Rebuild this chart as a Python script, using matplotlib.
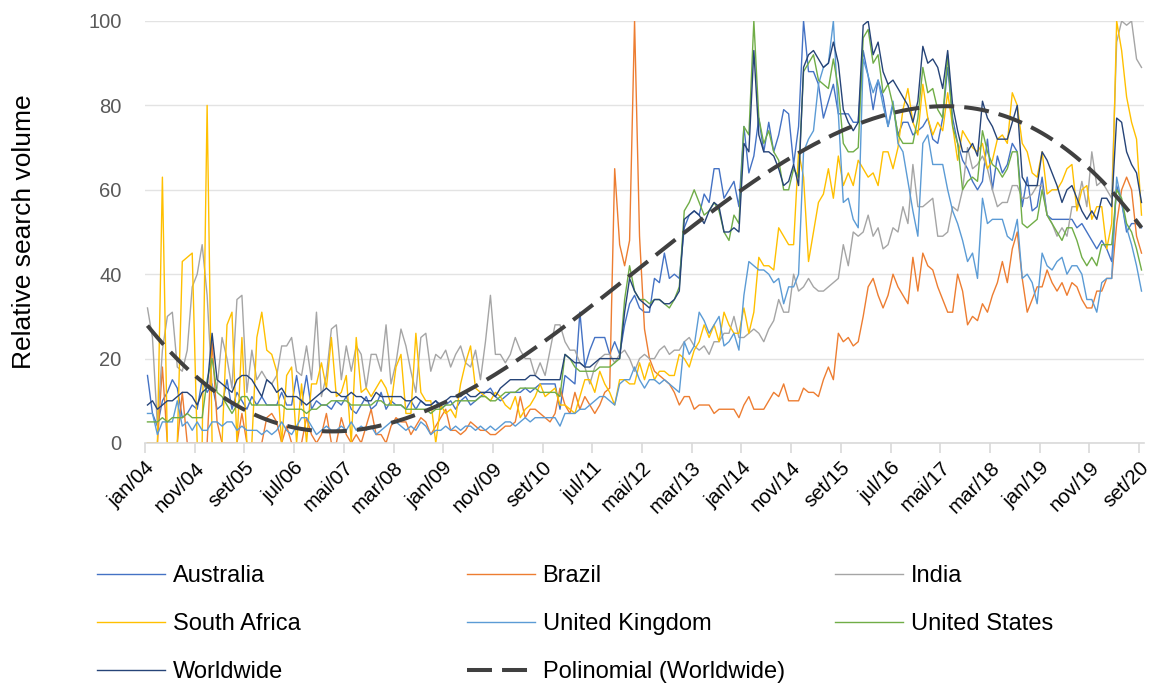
import numpy as np
import matplotlib
matplotlib.use("Agg")
import matplotlib.pyplot as plt

plt.rcParams['font.family'] = ['Liberation Sans', 'DejaVu Sans']

# monthly relative search volume, jan/2004 .. set/2020
tick_labels = ['jan/04', 'nov/04', 'set/05', 'jul/06', 'mai/07', 'mar/08', 'jan/09',
               'nov/09', 'set/10', 'jul/11', 'mai/12', 'mar/13', 'jan/14', 'nov/14',
               'set/15', 'jul/16', 'mai/17', 'mar/18', 'jan/19', 'nov/19', 'set/20']

australia = [
    16, 7, 4, 10, 12, 15, 13, 6, 7, 9,
    8, 15, 12, 14, 8, 9, 15, 8, 12, 10,
    8, 11, 9, 11, 9, 9, 9, 12, 9, 9,
    16, 9, 16, 8, 10, 9, 9, 8, 10, 9,
    11, 8, 7, 9, 11, 8, 9, 12, 8, 10,
    9, 9, 8, 10, 8, 10, 9, 9, 10, 8,
    9, 10, 8, 10, 11, 9, 10, 11, 12, 13,
    11, 10, 11, 12, 12, 12, 13, 12, 13, 14,
    14, 14, 14, 8, 16, 15, 14, 31, 18, 22,
    25, 25, 25, 21, 24, 21, 28, 33, 35, 32,
    31, 31, 39, 38, 45, 39, 40, 39, 51, 54,
    55, 54, 59, 57, 65, 65, 58, 60, 62, 56,
    75, 64, 68, 77, 69, 76, 69, 73, 79, 78,
    66, 75, 100, 88, 88, 85, 77, 81, 85, 78,
    78, 78, 76, 76, 93, 87, 79, 86, 82, 75,
    80, 73, 76, 76, 73, 74, 75, 77, 72, 71,
    77, 89, 77, 71, 67, 65, 62, 60, 62, 72,
    60, 68, 64, 66, 71, 69, 56, 63, 55, 56,
    63, 54, 53, 53, 53, 53, 53, 51, 52, 50,
    48, 46, 48, 46, 43, 61, 57, 50, 52, 52,
    51]

brazil = [
    0, 0, 0, 18, 0, 0, 0, 12, 0, 0,
    0, 0, 0, 24, 5, 0, 0, 0, 0, 7,
    0, 0, 0, 0, 6, 7, 5, 0, 4, 0,
    0, 0, 6, 2, 0, 2, 7, 0, 0, 6,
    2, 0, 2, 0, 4, 8, 2, 2, 0, 4,
    6, 5, 5, 2, 4, 6, 5, 2, 4, 6,
    8, 3, 3, 2, 3, 5, 4, 3, 3, 2,
    2, 3, 4, 4, 5, 11, 6, 8, 8, 7,
    6, 5, 7, 13, 9, 7, 12, 8, 11, 9,
    7, 9, 12, 13, 65, 47, 42, 48, 100, 49,
    27, 20, 17, 16, 15, 14, 12, 9, 11, 11,
    8, 9, 9, 9, 7, 8, 8, 8, 8, 6,
    9, 11, 8, 8, 8, 10, 12, 11, 14, 10,
    10, 10, 13, 12, 12, 11, 15, 18, 15, 26,
    24, 25, 23, 24, 30, 37, 39, 35, 32, 35,
    40, 37, 35, 33, 44, 36, 45, 42, 41, 37,
    34, 31, 31, 40, 36, 28, 30, 29, 33, 31,
    35, 38, 43, 38, 46, 50, 39, 31, 34, 37,
    37, 41, 38, 36, 38, 35, 38, 37, 34, 32,
    32, 36, 36, 39, 39, 52, 60, 63, 60, 49,
    45]

india = [
    32, 25, 4, 22, 30, 31, 18, 17, 22, 37,
    40, 47, 35, 13, 13, 25, 20, 13, 34, 35,
    12, 22, 15, 17, 15, 14, 16, 23, 23, 25,
    17, 16, 23, 15, 31, 11, 16, 27, 28, 15,
    23, 17, 23, 21, 13, 21, 21, 17, 28, 14,
    19, 27, 23, 17, 12, 25, 26, 17, 21, 20,
    22, 18, 21, 23, 19, 18, 22, 15, 24, 35,
    21, 21, 19, 21, 25, 22, 20, 20, 16, 19,
    16, 22, 28, 28, 24, 22, 22, 19, 18, 14,
    18, 20, 21, 21, 19, 21, 22, 20, 17, 20,
    21, 20, 20, 22, 23, 21, 22, 22, 24, 25,
    23, 22, 23, 21, 24, 24, 26, 26, 30, 25,
    25, 26, 27, 26, 24, 27, 29, 34, 31, 31,
    40, 36, 37, 39, 37, 36, 36, 37, 38, 39,
    47, 42, 50, 49, 50, 54, 49, 51, 46, 47,
    51, 50, 56, 52, 66, 56, 56, 57, 58, 49,
    49, 50, 56, 55, 60, 70, 65, 66, 68, 65,
    60, 56, 57, 57, 61, 61, 58, 58, 59, 61,
    61, 54, 52, 49, 51, 49, 56, 56, 62, 56,
    69, 61, 62, 60, 58, 95, 100, 99, 100, 91,
    89]

south_africa = [
    0, 0, 0, 63, 0, 0, 0, 43, 44, 45,
    0, 0, 80, 0, 0, 0, 28, 31, 0, 25,
    0, 0, 25, 31, 22, 21, 17, 0, 16, 18,
    0, 14, 0, 14, 14, 19, 13, 25, 11, 12,
    16, 0, 25, 12, 13, 11, 13, 15, 13, 9,
    18, 21, 7, 7, 26, 12, 10, 10, 0, 9,
    7, 8, 6, 14, 19, 23, 13, 12, 11, 10,
    12, 11, 9, 8, 11, 6, 8, 9, 11, 14,
    11, 12, 13, 9, 9, 8, 7, 11, 15, 15,
    12, 17, 14, 12, 9, 15, 15, 14, 14, 19,
    15, 19, 15, 17, 17, 16, 16, 21, 20, 18,
    22, 24, 28, 25, 28, 24, 31, 28, 26, 26,
    32, 26, 31, 44, 42, 42, 41, 51, 49, 47,
    47, 69, 63, 43, 50, 57, 59, 65, 58, 68,
    61, 64, 61, 67, 65, 63, 64, 61, 69, 69,
    65, 70, 79, 84, 76, 73, 85, 77, 73, 76,
    74, 83, 75, 67, 74, 72, 70, 69, 71, 65,
    67, 72, 73, 71, 83, 80, 71, 69, 64, 63,
    69, 59, 60, 60, 62, 65, 66, 55, 60, 61,
    53, 56, 56, 46, 52, 100, 93, 82, 76, 72,
    54]

united_kingdom = [
    7, 7, 2, 5, 5, 5, 10, 4, 5, 3,
    5, 3, 3, 5, 5, 4, 5, 5, 3, 4,
    3, 3, 3, 2, 3, 2, 3, 5, 3, 2,
    4, 6, 6, 4, 2, 3, 4, 3, 3, 4,
    3, 5, 3, 4, 3, 4, 2, 3, 4, 5,
    5, 4, 3, 4, 3, 5, 4, 2, 3, 3,
    4, 3, 4, 3, 4, 4, 3, 4, 3, 4,
    3, 4, 5, 5, 4, 5, 6, 5, 6, 6,
    6, 6, 6, 4, 7, 7, 7, 8, 8, 9,
    10, 11, 11, 10, 9, 14, 15, 15, 18, 15,
    13, 15, 15, 14, 15, 14, 13, 12, 24, 21,
    23, 31, 29, 26, 28, 30, 23, 24, 26, 22,
    35, 43, 42, 41, 41, 40, 38, 39, 33, 37,
    37, 40, 69, 72, 74, 85, 89, 90, 100, 78,
    57, 58, 53, 51, 91, 87, 83, 86, 80, 75,
    81, 71, 69, 62, 55, 49, 71, 73, 66, 66,
    66, 60, 55, 52, 48, 43, 45, 39, 58, 52,
    53, 53, 53, 49, 48, 53, 39, 40, 38, 33,
    45, 42, 41, 43, 44, 40, 42, 42, 40, 34,
    34, 31, 38, 39, 39, 63, 57, 51, 47, 42,
    36]

united_states = [
    5, 5, 5, 6, 5, 6, 6, 6, 7, 6,
    6, 6, 15, 20, 12, 11, 9, 7, 9, 11,
    11, 9, 9, 9, 9, 9, 9, 9, 8, 8,
    8, 8, 7, 8, 8, 9, 9, 10, 10, 10,
    10, 9, 9, 9, 9, 9, 10, 10, 9, 9,
    9, 9, 8, 8, 8, 8, 8, 7, 8, 8,
    9, 9, 10, 10, 10, 10, 10, 11, 11, 10,
    10, 11, 12, 12, 12, 13, 13, 13, 13, 12,
    12, 12, 12, 11, 21, 20, 18, 17, 17, 17,
    17, 18, 18, 18, 19, 20, 34, 42, 36, 34,
    34, 33, 34, 34, 33, 32, 34, 37, 55, 57,
    60, 57, 54, 55, 57, 55, 50, 48, 54, 52,
    75, 73, 100, 77, 71, 74, 69, 67, 60, 60,
    65, 63, 88, 90, 92, 86, 85, 84, 91, 84,
    71, 69, 69, 70, 96, 98, 90, 92, 83, 85,
    80, 73, 71, 71, 71, 77, 89, 83, 84, 79,
    77, 92, 75, 71, 60, 62, 63, 62, 74, 69,
    66, 65, 63, 65, 69, 69, 52, 51, 52, 53,
    60, 54, 52, 50, 48, 51, 51, 48, 44, 42,
    44, 42, 47, 47, 47, 60, 58, 52, 50, 46,
    41]

worldwide = [
    9, 10, 8, 9, 10, 10, 11, 12, 12, 11,
    9, 12, 13, 26, 15, 14, 13, 12, 15, 16,
    16, 15, 13, 11, 15, 14, 12, 13, 11, 11,
    11, 10, 9, 10, 11, 12, 13, 12, 12, 11,
    11, 12, 11, 11, 10, 10, 12, 11, 11, 11,
    11, 11, 10, 10, 11, 10, 9, 9, 10, 9,
    10, 11, 11, 11, 12, 11, 11, 12, 12, 12,
    11, 13, 14, 15, 15, 15, 15, 16, 16, 15,
    15, 15, 15, 15, 21, 20, 19, 19, 18, 18,
    19, 20, 20, 20, 20, 20, 31, 39, 36, 34,
    33, 32, 34, 34, 33, 33, 34, 36, 53, 54,
    55, 54, 52, 55, 57, 56, 50, 50, 51, 50,
    71, 69, 93, 73, 69, 69, 68, 65, 61, 62,
    66, 61, 89, 92, 93, 91, 89, 90, 95, 90,
    79, 76, 74, 76, 99, 100, 92, 95, 88, 85,
    86, 84, 82, 80, 76, 81, 94, 90, 91, 89,
    84, 93, 80, 74, 69, 69, 71, 68, 81, 77,
    75, 72, 72, 72, 76, 80, 63, 61, 61, 61,
    69, 67, 64, 61, 57, 60, 61, 58, 55, 53,
    55, 53, 58, 58, 56, 77, 76, 69, 66, 64,
    57]

series = [
    ("Australia", australia, "#4472C4"),
    ("Brazil", brazil, "#ED7D31"),
    ("India", india, "#A5A5A5"),
    ("South Africa", south_africa, "#FFC000"),
    ("United Kingdom", united_kingdom, "#5B9BD5"),
    ("United States", united_states, "#70AD47"),
    ("Worldwide", worldwide, "#264478"),
]

months = np.arange(len(worldwide))

fig = plt.figure(figsize=(11.53, 6.86), dpi=100)
ax = fig.add_axes([145 / 1153, 1 - 443 / 686, 999 / 1153, 422 / 686])

handles = {}
for name, vals, col in series:
    h, = ax.plot(months, vals, color=col, lw=1.0, label=name)
    handles[name] = h

# polynomial trend line of the worldwide series
coef = np.polyfit(months, worldwide, 3)
trend = np.polyval(coef, months)
h, = ax.plot(months, trend, color="#404040", lw=2.9, dashes=(6.2, 2.5),
             dash_capstyle="butt", label="Polinomial (Worldwide)")
handles["Polinomial (Worldwide)"] = h

ax.set_xlim(-0.5, len(months) - 0.5)
ax.set_ylim(0, 100)
ax.set_xticks(np.arange(0, len(months), 10) - 0.5)
ax.set_xticklabels(tick_labels, rotation=45, ha="right", va="top",
                   rotation_mode="anchor", fontsize=14.8, color="black")
ax.set_yticks([0, 20, 40, 60, 80, 100])
ax.tick_params(axis="y", length=0, pad=17, labelsize=14.5, labelcolor="#595959")
ax.tick_params(axis="x", length=7, width=1.2, color="#D9D9D9", pad=4)
ax.grid(axis="y", color="#E3E3E3", lw=1)
ax.set_axisbelow(True)
for s in ["top", "right", "left"]:
    ax.spines[s].set_visible(False)
ax.spines["bottom"].set_color("#D9D9D9")
ax.spines["bottom"].set_linewidth(1.2)

ax.set_ylabel("Relative search volume", fontsize=19, color="black")
ax.yaxis.set_label_coords(-0.109, 0.5)

columns = [
    ["Australia", "South Africa", "Worldwide"],
    ["Brazil", "United Kingdom", "Polinomial (Worldwide)"],
    ["India", "United States"],
]
col_x = [97, 467, 835]
for names, x in zip(columns, col_x):
    fig.legend([handles[n] for n in names], names, loc="upper left",
               bbox_to_anchor=(x / 1153, 1 - 565 / 686), frameon=False,
               fontsize=17, handlelength=2.9, handletextpad=0.3,
               borderpad=0, borderaxespad=0, labelspacing=1.1)

fig.savefig("out.png", dpi=100)
